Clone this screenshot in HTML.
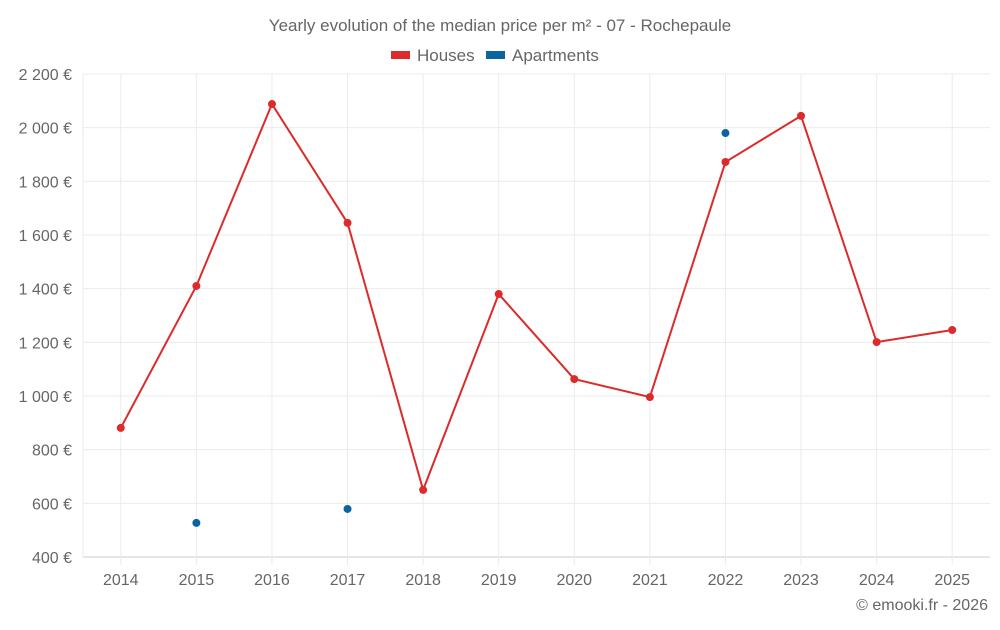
<!DOCTYPE html>
<html><head><meta charset="utf-8"><style>
body{margin:0;background:#fff;font-family:"Liberation Sans",sans-serif;}
svg text{font-family:"Liberation Sans",sans-serif;fill:#666;}
</style></head><body>
<svg id="chart" width="1000" height="625">
<text x="500" y="31" text-anchor="middle" font-size="17">Yearly evolution of the median price per m² - 07 - Rochepaule</text>
<g>
<g><rect x="391" y="51" width="19" height="8" fill="#dd2a2a"/><text x="417" y="61" font-size="17">Houses</text></g>
<g><rect x="486" y="51" width="19" height="8" fill="#0a64a0"/><text x="512" y="61" font-size="17">Apartments</text></g>
</g>
<g id="grid"></g><g id="axes"></g><g id="marks"></g>
<text x="988" y="610" text-anchor="end" font-size="16">© emooki.fr - 2026</text>
</svg>
<script>
const years=[2014,2015,2016,2017,2018,2019,2020,2021,2022,2023,2024,2025];
const houses=[881,1410,2088,1645,650,1380,1063,996,1872,2044,1201,1246];
const apartments=[null,527,null,579,null,null,null,null,1980,null,null,null];
const yTicks=[400,600,800,1000,1200,1400,1600,1800,2000,2200];
const yTickLabels=["400 €","600 €","800 €","1 000 €","1 200 €","1 400 €","1 600 €","1 800 €","2 000 €","2 200 €"];
const NS="http://www.w3.org/2000/svg";
const L=83,R=990,T=74,B=557;
const step=(R-L)/years.length;
const xs=i=>L+step*(i+0.5);
const ys=v=>B-(v-400)/(2200-400)*(B-T);
function mk(tag,a,parent){const e=document.createElementNS(NS,tag);for(const k in a)e.setAttribute(k,a[k]);parent.appendChild(e);return e;}
const grid=document.getElementById('grid'),axes=document.getElementById('axes'),marks=document.getElementById('marks');
yTicks.forEach((v,i)=>{
 const ln=mk('line',{x1:L,x2:R,y1:ys(v),y2:ys(v),stroke:i==0?'#ccc':'#ebebeb'},grid);
 
 
 const t=mk('text',{x:72,y:ys(v)+6,'text-anchor':'end','font-size':'16'},axes);
 t.textContent=yTickLabels[i];
 
 
});
const ax=mk('line',{x1:L,x2:L,y1:T,y2:B,stroke:'#ebebeb'},grid);


years.forEach((y,i)=>{
 const ln=mk('line',{x1:xs(i),x2:xs(i),y1:T,y2:B+8,stroke:'#ebebeb'},grid);
 
 
 const t=mk('text',{x:xs(i),y:585,'text-anchor':'middle','font-size':'16'},axes);
 t.textContent=y;
 
 
});
const pl=mk('polyline',{points:houses.map((v,i)=>xs(i)+','+ys(v)).join(' '),fill:'none',stroke:'#dd2a2a','stroke-width':2},marks);


houses.forEach((v,i)=>{
 const c=mk('circle',{cx:xs(i),cy:ys(v),r:4,fill:'#dd2a2a'},marks);
 
 
});
apartments.forEach((v,i)=>{
 if(v==null)return;
 const c=mk('circle',{cx:xs(i),cy:ys(v),r:4,fill:'#0a64a0'},marks);
 
 
});
</script>
</body></html>
